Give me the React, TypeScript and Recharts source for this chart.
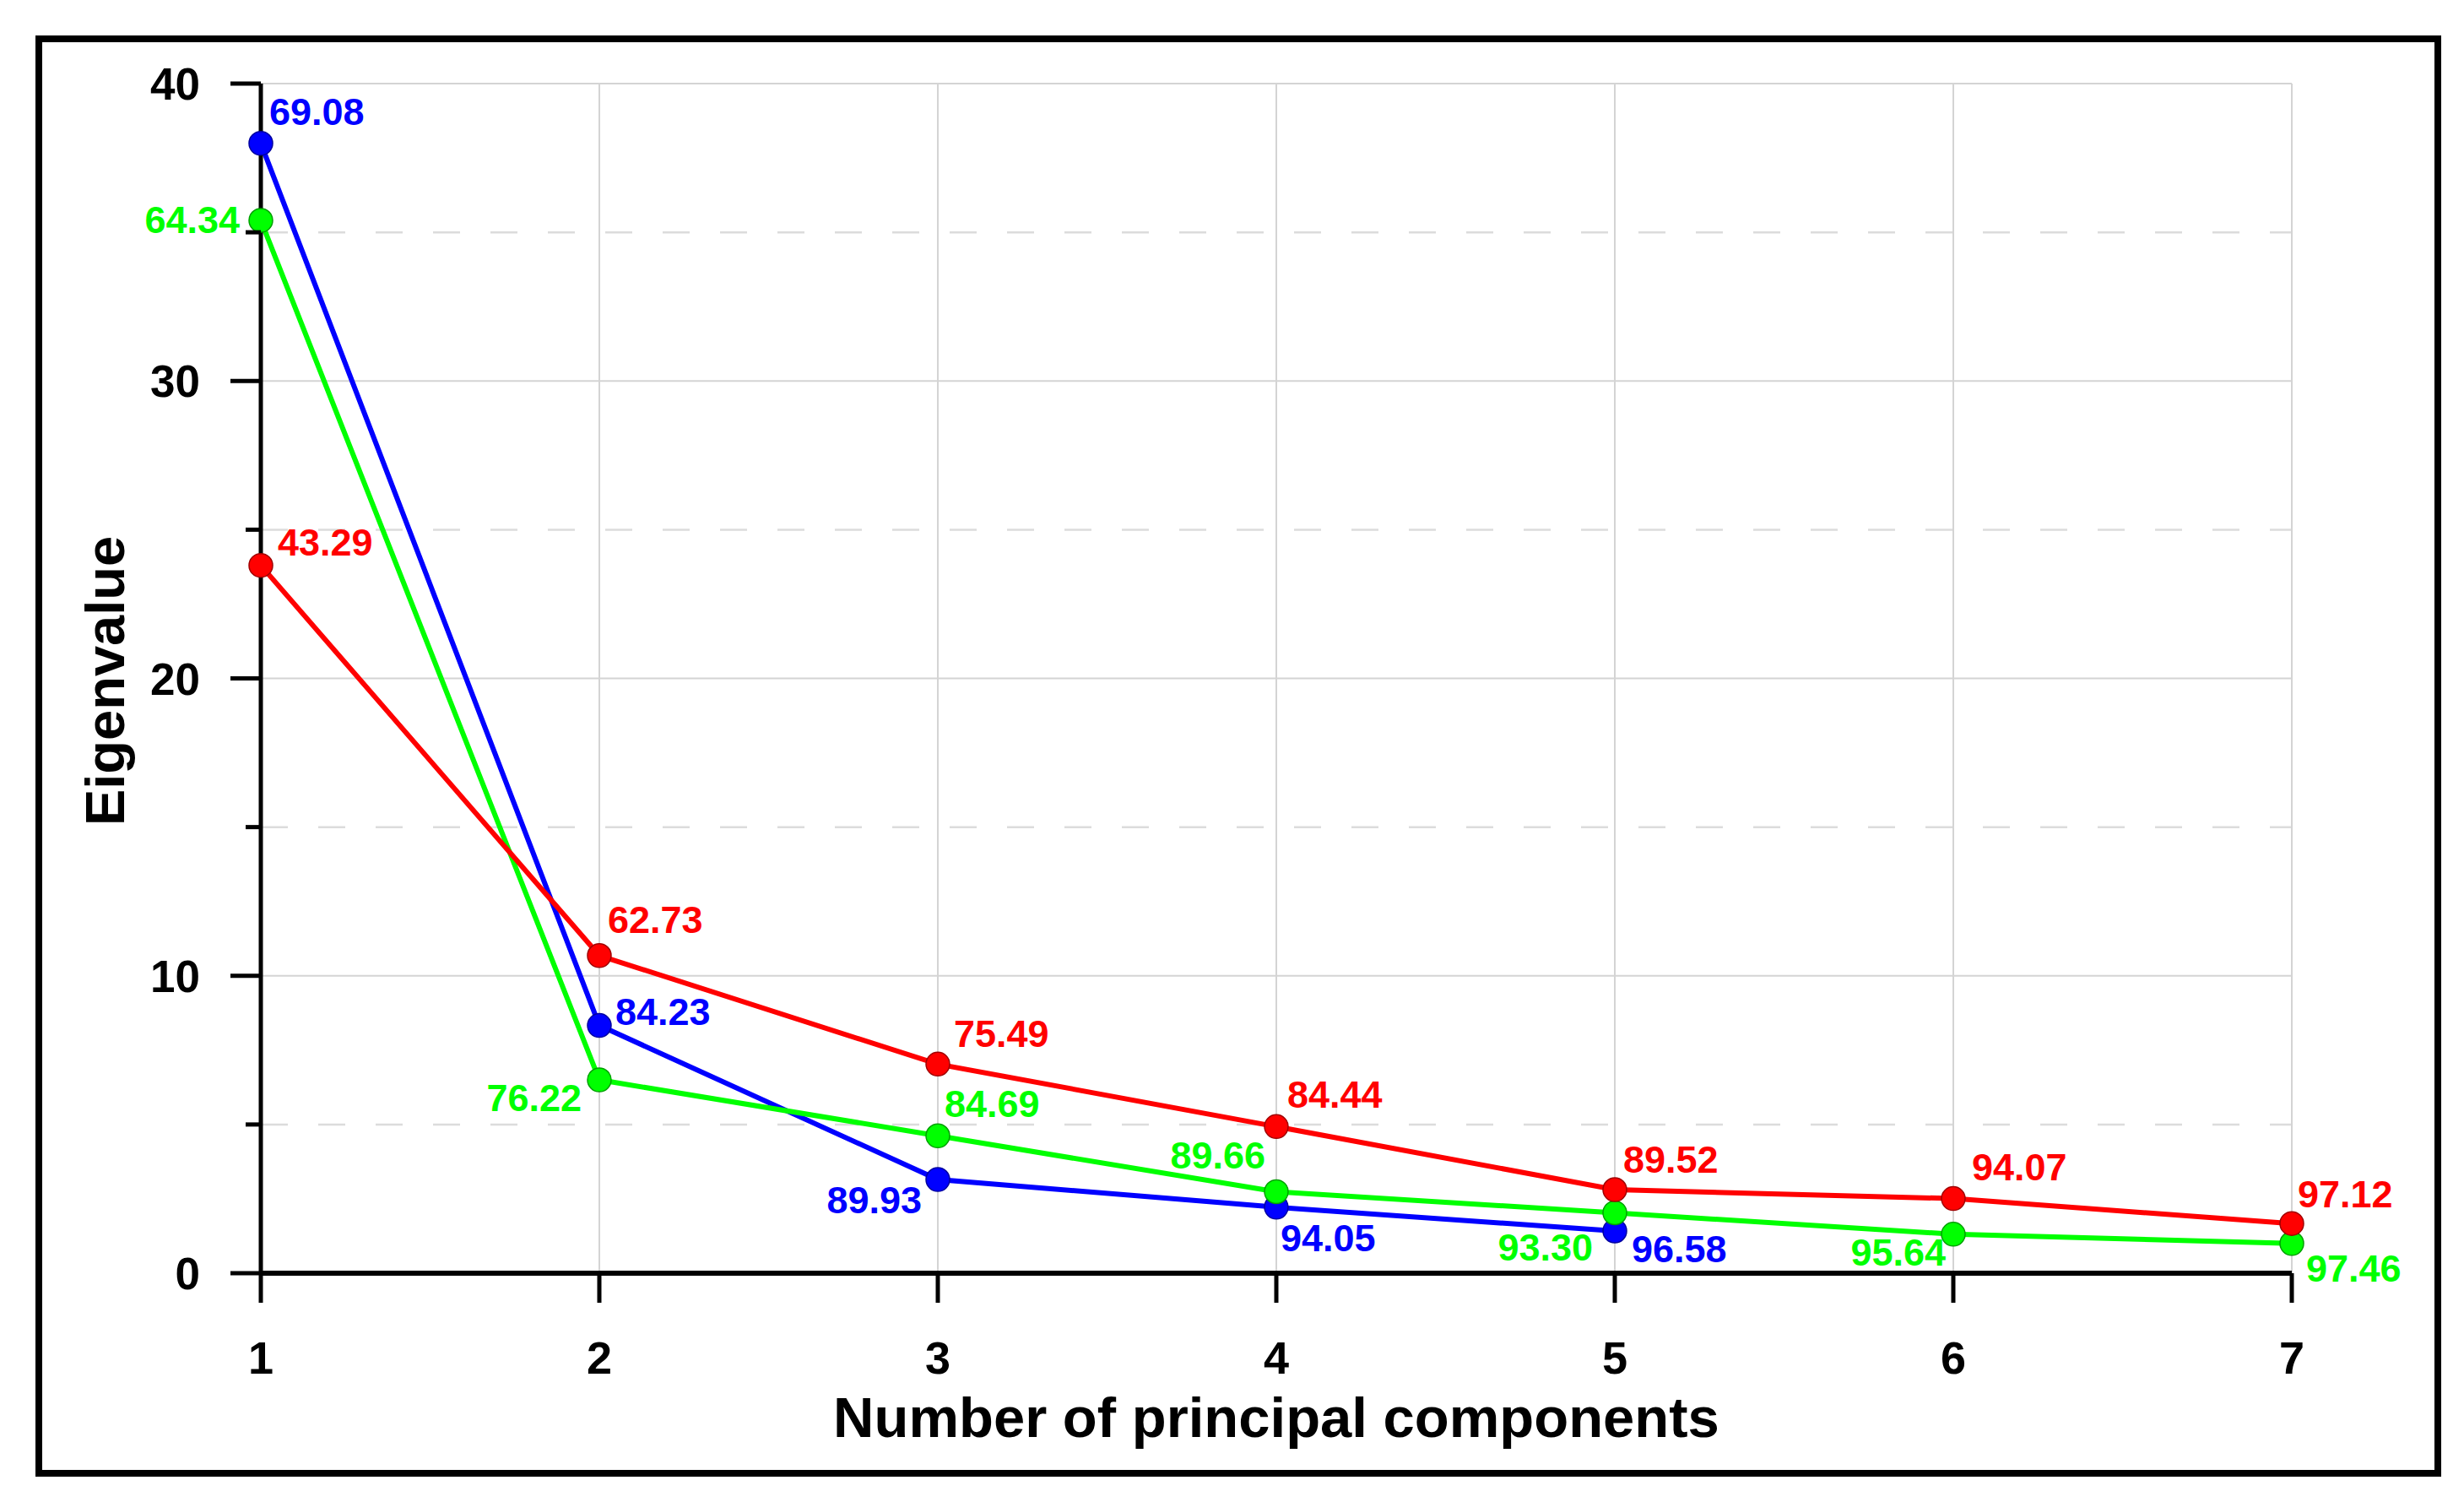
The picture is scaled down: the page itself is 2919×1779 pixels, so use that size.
import React from 'react';
import { LineChart, Line, XAxis, YAxis, CartesianGrid, Label, LabelList } from 'recharts';

// ---------- data ----------
const components = [1, 2, 3, 4, 5, 6, 7];
const blueEigen = [37.99, 8.33, 3.15, 2.22, 1.42];
const blueCumPct = ['69.08', '84.23', '89.93', '94.05', '96.58'];
const greenEigen = [35.4, 6.5, 4.62, 2.74, 2.03, 1.31, 1.0];
const greenCumPct = ['64.34', '76.22', '84.69', '89.66', '93.30', '95.64', '97.46'];
const redEigen = [23.8, 10.68, 7.03, 4.93, 2.81, 2.51, 1.67];
const redCumPct = ['43.29', '62.73', '75.49', '84.44', '89.52', '94.07', '97.12'];
const yTicks = [0, 5, 10, 15, 20, 25, 30, 35, 40];
const yMajorGrid = [10, 20, 30, 40];
const yMinorGrid = [5, 15, 25, 35];
const xGrid = [2, 3, 4, 5, 6, 7];
const xTitle = 'Number of principal components';
const yTitle = 'Eigenvalue';

const data = components.map((pc, i) => ({
  pc,
  blue: i < blueEigen.length ? blueEigen[i] : null,
  green: greenEigen[i],
  red: redEigen[i],
  blueLbl: blueCumPct[i],
  greenLbl: greenCumPct[i],
  redLbl: redCumPct[i],
}));

// ---------- style ----------
const FONT = '"Liberation Sans", Arial, Helvetica, sans-serif';
const BLUE = '#0000ff';
const GREEN = '#00ff00';
const RED = '#ff0000';
const Y_AXIS_W = 200;
const X_AXIS_H = 200;

// label placement: [dx, dy, anchor]
const bluePlace: [number, number, string][] = [
  [10, -22, 'start'], [19, -1, 'start'], [-19, 40, 'end'], [5, 52, 'start'], [20, 37, 'start'],
];
const greenPlace: [number, number, string][] = [
  [-25, 15, 'end'], [-21, 37, 'end'], [8, -22, 'start'], [-13, -27, 'end'], [-26, 57, 'end'], [-9, 37, 'end'], [17, 45, 'start'],
];
const redPlace: [number, number, string][] = [
  [20, -12, 'start'], [10, -27, 'start'], [19, -20, 'start'], [13, -22, 'start'], [10, -20, 'start'], [22, -22, 'start'], [7, -19, 'start'],
];

const makeLabel = (color: string, place: [number, number, string][]) => (props: any) => {
  const { x, y, index, value } = props;
  if (value == null || x == null || y == null || !place[index]) return null;
  const p = place[index];
  return (
    <text
      x={x + p[0]}
      y={y + p[1]}
      textAnchor={p[2] as any}
      fill={color}
      fontSize={45}
      fontWeight="bold"
      fontFamily={FONT}
    >
      {value}
    </text>
  );
};

const YTick = (props: any) => {
  const { x, y, payload } = props;
  const major = payload.value % 10 === 0;
  return (
    <g>
      <line x1={x - (major ? 36 : 18)} x2={x} y1={y} y2={y} stroke="#000" strokeWidth={5} />
      {major && (
        <text x={x - 72} y={y + 19} textAnchor="end" fontSize={53} fontWeight="bold" fontFamily={FONT} fill="#000">
          {payload.value}
        </text>
      )}
    </g>
  );
};

const XTick = (props: any) => {
  const { x, y, payload } = props;
  return (
    <g>
      <line x1={x} x2={x} y1={y} y2={y + 35} stroke="#000" strokeWidth={5} />
      <text x={x} y={y + 119} textAnchor="middle" fontSize={54} fontWeight="bold" fontFamily={FONT} fill="#000">
        {payload.value}
      </text>
    </g>
  );
};

const mapY = (vals: number[]) => (args: any) => {
  const s = args?.yAxis?.scale;
  const off = args?.offset;
  return vals.map((v) =>
    typeof s === 'function' ? s(v) : off.top + off.height * (1 - v / 40)
  );
};
const mapX = (vals: number[]) => (args: any) => {
  const s = args?.xAxis?.scale;
  const off = args?.offset;
  return vals.map((v) =>
    typeof s === 'function' ? s(v) : off.left + (off.width * (v - 1)) / 6
  );
};

export default function App() {
  return (
    <div style={{ position: 'absolute', left: 0, top: 0, width: 2919, height: 1779, background: '#fff' }}>
      <div
        style={{
          position: 'absolute',
          left: 42,
          top: 42,
          width: 2850,
          height: 1707,
          border: '8px solid #000',
          boxSizing: 'border-box',
        }}
      />
      <div style={{ position: 'absolute', left: 0, top: 0 }}>
        <LineChart
          width={2919}
          height={1779}
          data={data}
          margin={{ top: 99, right: 204, bottom: 271 - X_AXIS_H, left: 309 - Y_AXIS_W }}
        >
          <CartesianGrid
            horizontalCoordinatesGenerator={mapY(yMinorGrid)}
            vertical={false}
            stroke="#dcdcdc"
            strokeWidth={2.5}
            strokeDasharray="32 36"
          />
          <CartesianGrid
            horizontalCoordinatesGenerator={mapY(yMajorGrid)}
            verticalCoordinatesGenerator={mapX(xGrid)}
            stroke="#d4d4d4"
            strokeWidth={2}
          />
          <XAxis
            dataKey="pc"
            type="number"
            domain={[1, 7]}
            ticks={components}
            height={X_AXIS_H}
            tickSize={0}
            tickMargin={0}
            tickLine={false}
            axisLine={{ stroke: '#000', strokeWidth: 6 }}
            tick={<XTick />}
            interval={0}
          >
            <Label
              content={(p: any) => {
                const vb = p.viewBox || {};
                return (
                  <text
                    x={vb.x + vb.width / 2}
                    y={vb.y + 194}
                    textAnchor="middle"
                    fontSize={67}
                    fontWeight="bold"
                    fontFamily={FONT}
                    fill="#000"
                  >
                    {xTitle}
                  </text>
                );
              }}
            />
          </XAxis>
          <YAxis
            type="number"
            domain={[0, 40]}
            ticks={yTicks}
            width={Y_AXIS_W}
            tickSize={0}
            tickMargin={0}
            tickLine={false}
            axisLine={{ stroke: '#000', strokeWidth: 5 }}
            tick={<YTick />}
            interval={0}
          >
            <Label
              content={(p: any) => {
                const vb = p.viewBox || {};
                const cx = vb.x + (vb.width || 0) - 162;
                const cy = vb.y + vb.height / 2 + 3;
                return (
                  <text
                    x={cx}
                    y={cy}
                    transform={`rotate(-90, ${cx}, ${cy})`}
                    textAnchor="middle"
                    fontSize={65}
                    fontWeight="bold"
                    fontFamily={FONT}
                    fill="#000"
                  >
                    {yTitle}
                  </text>
                );
              }}
            />
          </YAxis>
          <Line
            dataKey="blue"
            type="linear"
            stroke={BLUE}
            strokeWidth={6}
            dot={{ r: 14, fill: BLUE, stroke: '#0000a0', strokeWidth: 1.5 }}
            activeDot={false}
            isAnimationActive={false}
          >
            <LabelList dataKey="blueLbl" content={makeLabel(BLUE, bluePlace)} />
          </Line>
          <Line
            dataKey="green"
            type="linear"
            stroke={GREEN}
            strokeWidth={6}
            dot={{ r: 14, fill: GREEN, stroke: '#00a000', strokeWidth: 1.5 }}
            activeDot={false}
            isAnimationActive={false}
          >
            <LabelList dataKey="greenLbl" content={makeLabel(GREEN, greenPlace)} />
          </Line>
          <Line
            dataKey="red"
            type="linear"
            stroke={RED}
            strokeWidth={6}
            dot={{ r: 14, fill: RED, stroke: '#a00000', strokeWidth: 1.5 }}
            activeDot={false}
            isAnimationActive={false}
          >
            <LabelList dataKey="redLbl" content={makeLabel(RED, redPlace)} />
          </Line>
        </LineChart>
      </div>
    </div>
  );
}
